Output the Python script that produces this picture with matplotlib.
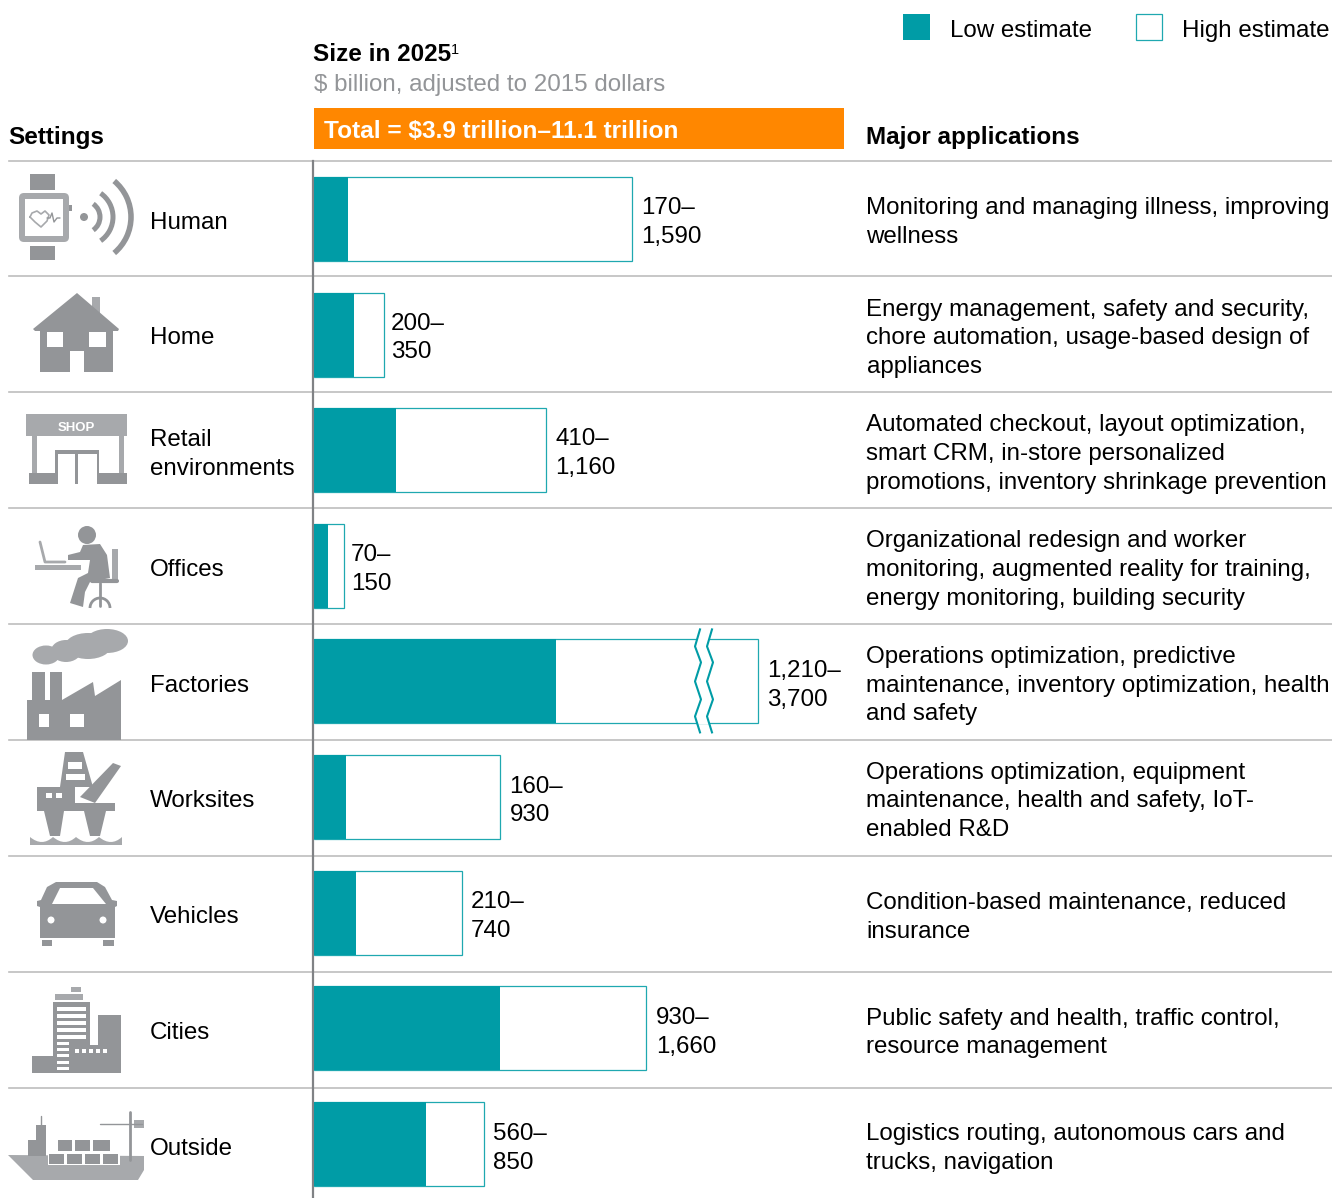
import matplotlib
matplotlib.use("Agg")
import matplotlib.pyplot as plt
from matplotlib.patches import Rectangle, Polygon, Circle, Ellipse, Arc, FancyBboxPatch, PathPatch
from matplotlib.path import Path
from matplotlib.transforms import blended_transform_factory

plt.rcParams['font.family'] = ['Liberation Sans', 'DejaVu Sans']

# data, $ billion
settings = [["Human"], ["Home"], ["Retail", "environments"], ["Offices"], ["Factories"],
            ["Worksites"], ["Vehicles"], ["Cities"], ["Outside"]]
low = [170, 200, 410, 70, 1210, 160, 210, 930, 560]
high = [1590, 350, 1160, 150, 3700, 930, 740, 1660, 850]
applications = [
    ["Monitoring and managing illness, improving", "wellness"],
    ["Energy management, safety and security,", "chore automation, usage-based design of", "appliances"],
    ["Automated checkout, layout optimization,", "smart CRM, in-store personalized", "promotions, inventory shrinkage prevention"],
    ["Organizational redesign and worker", "monitoring, augmented reality for training,", "energy monitoring, building security"],
    ["Operations optimization, predictive", "maintenance, inventory optimization, health", "and safety"],
    ["Operations optimization, equipment", "maintenance, health and safety, IoT-", "enabled R&D"],
    ["Condition-based maintenance, reduced", "insurance"],
    ["Public safety and health, traffic control,", "resource management"],
    ["Logistics routing, autonomous cars and", "trucks, navigation"],
]
# the factories bar is cut, it is drawn only this long
broken_row = 4
broken_length = 2220

TEAL = "#009CA6"
EDGE = "#1FA8B0"
GRAY = "#939598"
LIGHT = "#A7A9AC"
RULE = "#BDBDBD"
ORANGE = "#FF8700"
FONT_PX = 24.1
FS = FONT_PX * 72 / 100
FS_BOLD = FS * 1.006

W, H = 1332, 1198
RULE_TOP = 160.5
RULE_H = 115.9
TEXT_MID = 220.5
TEXT_H = 115.75
BAR_MID = 219
BAR_ROW_H = 115.6
BAR_X = 313.5
PX_PER_BN = 0.2

fig = plt.figure(figsize=(W / 100, H / 100), dpi=100)
ax = fig.add_axes([0, 0, 1, 1])
ax.set_xlim(0, W)
ax.set_ylim(H, 0)
ax.axis("off")


def label(x, y, s, weight="normal", color="black", size=FS):
    # y is the middle of the digits/capitals
    ax.text(x, y + 0.34 * size * 100 / 72, s, fontsize=size, fontweight=weight, color=color,
            ha="left", va="baseline")


def rect(x0, y0, x1, y1, color=GRAY):
    ax.add_patch(Rectangle((x0, y0), x1 - x0, y1 - y0, facecolor=color, edgecolor="none"))


def poly(points, color=GRAY):
    ax.add_patch(Polygon(points, closed=True, facecolor=color, edgecolor="none"))


def stroke(points, lw=2, color=GRAY):
    ax.plot([p[0] for p in points], [p[1] for p in points], color=color, lw=lw,
            solid_capstyle="round", solid_joinstyle="round")


# bars live in their own axes, so they go through the x scale in $ billion
n_rows = len(settings)
bar_top = BAR_MID - BAR_ROW_H / 2
bar_ax = fig.add_axes([BAR_X / W, 0, (W - BAR_X) / W, (H - bar_top) / H])
bar_ax.set_xlim(0, (W - BAR_X) / PX_PER_BN)
bar_ax.set_ylim((H - bar_top) / BAR_ROW_H - 0.5, -0.5)
bar_ax.axis("off")
bar_ax.patch.set_alpha(0)

rows = list(range(n_rows))
drawn_high = [broken_length if i == broken_row else v for i, v in enumerate(high)]
bar_ax.barh(rows, drawn_high, height=84 / BAR_ROW_H, facecolor="white", edgecolor=EDGE, linewidth=0.9)
bar_ax.barh(rows, low, height=84 / BAR_ROW_H, color=TEAL, edgecolor="none")

# value labels: x from the bar scale, y from the text rows
label_gap = [9.5, 7.5, 9.5, 7.5, 9.5, 10, 9, 10.5, 9.5]
label_trans = blended_transform_factory(bar_ax.transData, ax.transData)
for i in rows:
    x = drawn_high[i] + label_gap[i] / PX_PER_BN
    mid = TEXT_MID + i * TEXT_H - 0.5
    for dy, s in [(-14.4, f"{low[i]:,}–"), (14.4, f"{high[i]:,}")]:
        bar_ax.text(x, mid + dy + 0.34 * FONT_PX, s, fontsize=FS, transform=label_trans,
                    ha="left", va="baseline", clip_on=False)

# break marks on the factories bar, offsets in pixels from the bar middle
zig_x = [0, -5, 1, -5, 1, -5, 0]
zig_y = [-52, -35, -19, 0, 18, 35, 51]
bar_ax.fill_betweenx([broken_row - 43 / BAR_ROW_H, broken_row + 43 / BAR_ROW_H],
                     384 / PX_PER_BN, 395 / PX_PER_BN, color="white", lw=0, zorder=2)
for base_px in [386.5, 398.5]:
    xs = [(base_px + d) / PX_PER_BN for d in zig_x]
    ys = [broken_row + d / BAR_ROW_H for d in zig_y]
    bar_ax.plot(xs, ys, color=TEAL, lw=1.5, zorder=3, clip_on=False)

# rules and axis
for i in range(n_rows):
    y = RULE_TOP + i * RULE_H
    ax.plot([9, W], [y, y], color=RULE, lw=1.2, zorder=1)
ax.plot([BAR_X - 0.5, BAR_X - 0.5], [RULE_TOP, H], color="#808285", lw=1.6, zorder=1)

# header
label(313, 53, "Size in 2025", weight="bold", size=FS_BOLD)
label(450.5, 49, "1", size=FS * 0.6)
label(313.5, 83, "$ billion, adjusted to 2015 dollars", color="#939598")
rect(314, 108, 844, 149, ORANGE)
label(324, 130, "Total = $3.9 trillion–11.1 trillion", weight="bold", color="white", size=FS * 1.01)
label(8.5, 136, "Settings", weight="bold", size=FS_BOLD)
label(866.5, 136, "Major applications", weight="bold", size=FS_BOLD)

# legend
rect(903, 13.5, 930, 40, TEAL)
ax.add_patch(Rectangle((1135.5, 14), 26, 26, facecolor="white", edgecolor=EDGE, lw=0.9))
label(950.5, 29, "Low estimate")
label(1182, 29, "High estimate")

# row texts
for i in rows:
    mid = TEXT_MID + i * TEXT_H
    for j, s in enumerate(settings[i]):
        label(150, mid + (j - (len(settings[i]) - 1) / 2) * 28.8, s)
    for j, s in enumerate(applications[i]):
        label(866.5, mid + (j - (len(applications[i]) - 1) / 2) * 28.8, s)


# icons, in picture pixels
def icon_human():
    rect(30, 174, 55, 190)
    rect(30, 246, 55, 260)
    ax.add_patch(FancyBboxPatch((22, 196), 44, 43, boxstyle="round,pad=3,rounding_size=5",
                                facecolor=LIGHT, edgecolor="none"))
    rect(25, 199, 63, 236, "white")
    rect(69, 205, 72, 211)
    stroke([(30, 217), (35, 222), (41, 227), (47, 221), (49, 215), (45, 211), (41, 214), (37, 211), (32, 213), (30, 217)], lw=1.2, color=LIGHT)
    stroke([(47, 218), (50, 218), (52, 213), (54, 222), (57, 218), (60, 218)], lw=1)
    ax.add_patch(Circle((84, 217), 4, facecolor=GRAY, edgecolor="none"))
    for r, a, lw in [(16, 55, 3.6), (29, 55, 3.6), (47, 50, 4)]:
        ax.add_patch(Arc((84, 217), 2 * r, 2 * r, theta1=-a, theta2=a, color=GRAY, lw=lw))


def icon_home():
    rect(92, 297, 100, 315, LIGHT)
    poly([(77, 293), (119, 329), (118, 331), (35, 331), (33, 329)])
    rect(40, 330, 113, 372)
    rect(47, 332, 63, 347, "white")
    rect(89, 332, 106, 347, "white")
    rect(70, 351, 84, 372, "white")


def icon_shop():
    rect(26, 414, 127, 436, LIGHT)
    ax.text(76, 431, "SHOP", color="white", fontsize=9.5, fontweight="bold", ha="center", va="baseline")
    rect(32, 436, 37, 480, LIGHT)
    rect(119, 436, 124, 480, LIGHT)
    rect(29, 473, 127, 484)
    rect(55, 450, 99, 484)
    rect(58, 454, 75, 484, "white")
    rect(78, 454, 97, 484, "white")


def icon_office():
    ax.add_patch(Circle((87, 535), 9, facecolor=GRAY, edgecolor="none"))
    stroke([(40, 542), (45, 562), (65, 562)], lw=2, color=LIGHT)
    rect(35, 565, 81, 570, LIGHT)
    poly([(83, 545), (100, 544), (107, 555), (110, 578), (90, 582), (85, 592), (83, 607), (70, 603),
          (78, 578), (88, 573), (90, 560), (68, 560), (68, 555), (80, 552)])
    rect(112, 549, 118, 580, LIGHT)
    stroke([(92, 581), (117, 581)], lw=3)
    stroke([(100, 583), (100, 606)], lw=2)
    ax.add_patch(Arc((100, 608), 20, 20, theta1=180, theta2=360, color=GRAY, lw=2))


def icon_factory():
    for e in [(46, 655, 27, 19), (66, 651, 30, 22), (88, 646, 46, 26), (107, 641, 42, 24)]:
        ax.add_patch(Ellipse(e[:2], e[2], e[3], facecolor=LIGHT, edgecolor="none"))
    rect(32, 672, 45, 702)
    rect(50, 672, 62, 702)
    poly([(27, 700), (62, 700), (93, 682), (95, 696), (121, 680), (121, 740), (27, 740)])
    rect(39, 714, 49, 727, "white")
    rect(70, 714, 84, 727, "white")


def icon_worksite():
    poly([(65, 752), (83, 752), (93, 787), (60, 787)])
    rect(68, 762, 82, 769, "white")
    rect(66, 774, 85, 780, "white")
    rect(37, 787, 75, 803)
    rect(46, 793, 52, 798, "white")
    rect(56, 793, 62, 798, "white")
    poly([(80, 797), (113, 763), (121, 766), (95, 803)])
    rect(37, 803, 115, 811)
    poly([(44, 811), (64, 811), (60, 836), (50, 836)])
    poly([(84, 811), (106, 811), (100, 836), (90, 836)])
    verts = [(30, 837), (42, 847), (53, 837), (65, 847), (76, 837), (88, 847), (99, 837), (111, 847), (122, 837), (122, 845), (30, 845), (30, 837)]
    codes = [Path.MOVETO, Path.CURVE3, Path.CURVE3, Path.CURVE3, Path.CURVE3, Path.CURVE3, Path.CURVE3, Path.CURVE3, Path.CURVE3, Path.LINETO, Path.LINETO, Path.CLOSEPOLY]
    ax.add_patch(PathPatch(Path(verts, codes), facecolor=LIGHT, edgecolor="none"))


def icon_vehicle():
    poly([(37, 901), (41, 900), (47, 887), (56, 882), (97, 882), (105, 887), (112, 900), (117, 901), (117, 906), (115, 907), (115, 938), (40, 938), (40, 907), (37, 906)])
    poly([(60, 888), (93, 888), (106, 904), (52, 904)], "white")
    ax.add_patch(Circle((51, 920), 3.5, facecolor="white", edgecolor="none"))
    ax.add_patch(Circle((103, 920), 3.5, facecolor="white", edgecolor="none"))
    rect(42, 940, 52, 946)
    rect(103, 940, 114, 946)


def icon_city():
    rect(71, 987, 81, 992, LIGHT)
    rect(55, 994, 83, 1000, LIGHT)
    rect(53, 1002, 90, 1073)
    for k in range(5):
        rect(57, 1007 + k * 7, 86, 1011 + k * 7, "white")
    for k in range(5):
        rect(57, 1042 + k * 6.2, 69, 1045 + k * 6.2, "white")
    rect(98, 1015, 121, 1073)
    rect(70, 1045, 121, 1073)
    rect(32, 1056, 53, 1073)
    for k in range(5):
        rect(75 + k * 7, 1049, 79 + k * 7, 1053, "white")


def icon_ship():
    poly([(8, 1155), (144, 1156), (144, 1170), (138, 1180), (33, 1180)], LIGHT)
    rect(28, 1140, 46, 1156)
    rect(36, 1125, 46, 1140)
    stroke([(41, 1125), (41, 1116)], lw=1)
    rect(58, 1140, 72, 1151)
    rect(75, 1140, 90, 1151)
    rect(93, 1140, 110, 1151)
    rect(48, 1153, 120, 1165, "white")
    for x0 in [49, 67, 85, 103]:
        rect(x0, 1154, x0 + 15, 1164)
    stroke([(130, 1112), (130, 1160)], lw=2)
    stroke([(100, 1124), (142, 1124)], lw=1)
    rect(134, 1120, 144, 1128, LIGHT)


for draw_icon in [icon_human, icon_home, icon_shop, icon_office, icon_factory,
                  icon_worksite, icon_vehicle, icon_city, icon_ship]:
    draw_icon()

fig.savefig("out.png", dpi=100, facecolor="white")
